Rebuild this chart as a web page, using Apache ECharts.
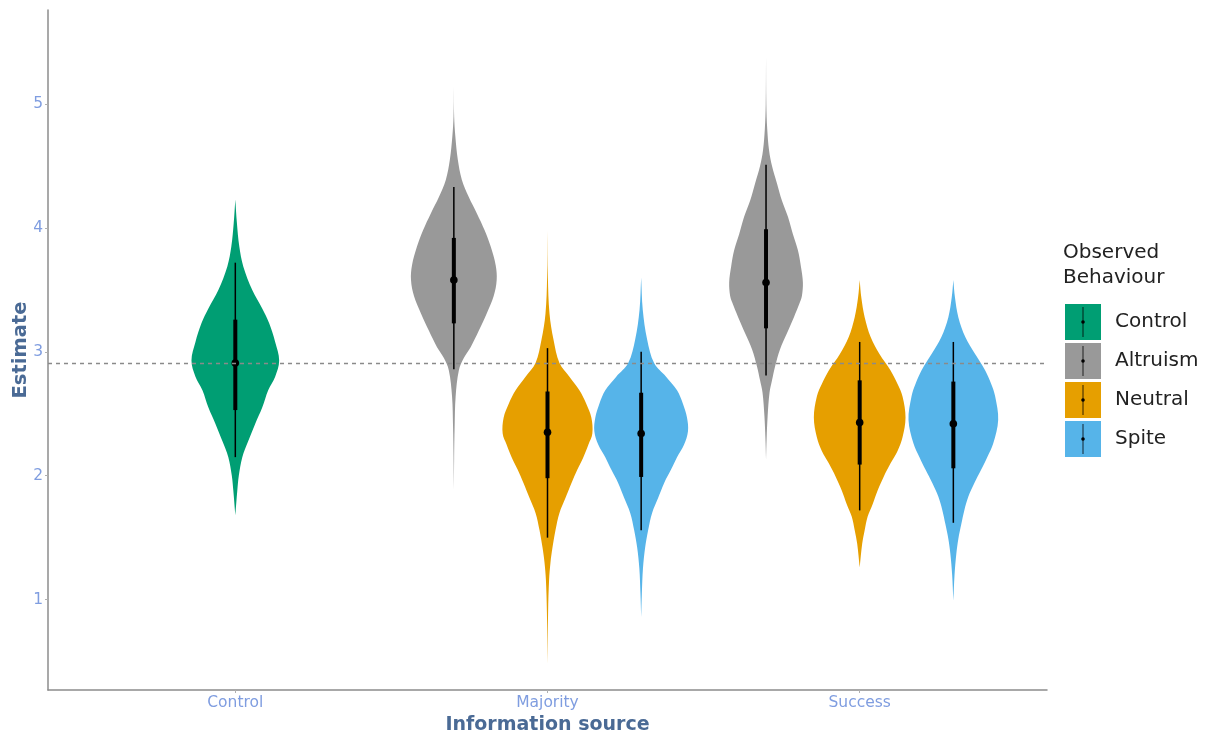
<!DOCTYPE html>
<html><head><meta charset="utf-8">
<script src="https://cdn.jsdelivr.net/npm/echarts@6/dist/echarts.min.js"></script>
<style>html,body{margin:0;padding:0;background:#fff}#c{width:1207px;height:736px}</style>
</head><body><div id="c"></div>
<script>
// ---------- data ----------
const sources = ['Control', 'Majority', 'Success'];
const behaviours = ['Control', 'Altruism', 'Neutral', 'Spite'];
const yTicks = [1, 2, 3, 4, 5];
const referenceLine = 2.91;

// which information sources each behaviour appears in
const controlSources = ['Control'];
const altruismSources = ['Majority', 'Success'];
const neutralSources = ['Majority', 'Success'];
const spiteSources = ['Majority', 'Success'];

// medians and intervals (66% inner, 95% outer)
const controlMedian = [2.91];
const controlInner = [[2.53, 3.26]];
const controlOuter = [[2.15, 3.72]];
const altruismMedian = [3.58, 3.56];
const altruismInner = [[3.23, 3.92], [3.19, 3.99]];
const altruismOuter = [[2.86, 4.33], [2.81, 4.51]];
const neutralMedian = [2.35, 2.43];
const neutralInner = [[1.98, 2.68], [2.09, 2.77]];
const neutralOuter = [[1.50, 3.03], [1.72, 3.08]];
const spiteMedian = [2.34, 2.42];
const spiteInner = [[1.99, 2.67], [2.06, 2.76]];
const spiteOuter = [[1.56, 3.00], [1.62, 3.08]];

// violin density profiles: [estimate, relative density]
const densControlControl = [[4.23,0],[4.04,1.6],[3.85,4],[3.69,8],[3.50,17],[3.35,27],[3.23,34],[3.08,40],[2.93,44],[2.80,40],[2.69,33],[2.55,27],[2.42,20],[2.28,13],[2.15,7],[2.00,3.5],[1.88,2],[1.68,0]];
const densMajorityAltruism = [[5.14,0],[4.90,0.3],[4.74,1.5],[4.55,4],[4.39,8],[4.25,15],[4.12,23],[3.98,31],[3.85,37],[3.70,42],[3.58,43],[3.45,40],[3.31,33],[3.17,25],[3.04,17],[2.95,10],[2.85,5],[2.64,1.8],[2.40,0.8],[2.15,0.3],[1.88,0]];
const densSuccessAltruism = [[5.38,0],[5.00,0.3],[4.80,1.2],[4.63,3],[4.50,6],[4.36,11],[4.22,16],[4.09,22],[3.95,27],[3.82,32],[3.69,35],[3.56,37],[3.45,36],[3.40,34],[3.28,28],[3.15,21],[3.02,14],[2.88,9],[2.77,6],[2.67,3.5],[2.48,1.6],[2.30,0.6],[2.13,0]];
const densMajorityNeutral = [[3.98,0],[3.60,0.4],[3.31,2],[3.10,6],[2.91,12],[2.80,22],[2.69,32],[2.58,39],[2.47,44],[2.34,45],[2.25,41],[2.15,36],[2.05,30],[1.94,24],[1.82,18],[1.70,12],[1.56,8],[1.42,5],[1.30,3],[1.16,1.6],[0.90,0.6],[0.48,0]];
const densSuccessNeutral = [[3.58,0],[3.44,1.6],[3.28,5],[3.12,11],[2.98,20],[2.85,31],[2.74,38],[2.64,43],[2.47,46],[2.31,43],[2.20,38],[2.10,31],[1.99,24],[1.88,18],[1.77,13],[1.67,8],[1.56,5],[1.45,2.5],[1.26,0]];
const densMajoritySpite = [[3.60,0],[3.34,1.6],[3.10,6],[2.91,13],[2.80,25],[2.69,36],[2.58,42],[2.47,46],[2.36,47],[2.25,43],[2.15,36],[2.05,30],[1.94,23],[1.82,17],[1.70,11],[1.56,7],[1.42,4],[1.25,1.8],[1.05,0.7],[0.86,0]];
const densSuccessSpite = [[3.58,0],[3.44,1.6],[3.28,5],[3.12,12],[2.98,22],[2.85,32],[2.74,38],[2.64,42],[2.45,45],[2.26,40],[2.15,34],[2.05,28],[1.94,21],[1.83,15],[1.72,11],[1.61,8],[1.49,5],[1.37,3],[1.20,1.2],[0.99,0]];

// ---------- layout / style ----------
const colors = { Control: '#009E73', Altruism: '#999999', Neutral: '#E69F00', Spite: '#56B4E9' };
const dodge = { Control: 0, Altruism: -0.3, Neutral: 0, Spite: 0.3 };
const maxHalfWidth = 0.15;
const allDens = [densControlControl, densMajorityAltruism, densSuccessAltruism, densMajorityNeutral, densSuccessNeutral, densMajoritySpite, densSuccessSpite];
const maxDens = Math.max(...allDens.map(p => Math.max(...p.map(q => q[1]))));
const densScale = maxHalfWidth / maxDens;
const FONT = '"DejaVu Sans", Verdana, sans-serif';

const groups = {
  Control: { srcs: controlSources, med: controlMedian, inner: controlInner, outer: controlOuter, prof: [densControlControl] },
  Altruism: { srcs: altruismSources, med: altruismMedian, inner: altruismInner, outer: altruismOuter, prof: [densMajorityAltruism, densSuccessAltruism] },
  Neutral: { srcs: neutralSources, med: neutralMedian, inner: neutralInner, outer: neutralOuter, prof: [densMajorityNeutral, densSuccessNeutral] },
  Spite: { srcs: spiteSources, med: spiteMedian, inner: spiteInner, outer: spiteOuter, prof: [densMajoritySpite, densSuccessSpite] }
};

function makeRender(g, color) {
  return function (params, api) {
    const i = params.dataIndex;
    const x = api.value(0);
    const prof = g.prof[i];
    const right = [], left = [];
    prof.forEach(function (p) {
      const hw = p[1] * densScale;
      right.push(api.coord([x + hw, p[0]]));
      left.push(api.coord([x - hw, p[0]]));
    });
    const pts = right.concat(left.reverse());
    const o0 = api.coord([x, g.outer[i][0]]), o1 = api.coord([x, g.outer[i][1]]);
    const n0 = api.coord([x, g.inner[i][0]]), n1 = api.coord([x, g.inner[i][1]]);
    const m = api.coord([x, g.med[i]]);
    return {
      type: 'group',
      children: [
        { type: 'polygon', shape: { points: pts, smooth: 0.35 }, style: { fill: color } },
        { type: 'line', shape: { x1: o0[0], y1: o0[1], x2: o1[0], y2: o1[1] }, style: { stroke: '#000', lineWidth: 1.5 } },
        { type: 'line', shape: { x1: n0[0], y1: n0[1], x2: n1[0], y2: n1[1] }, style: { stroke: '#000', lineWidth: 4 } },
        { type: 'circle', shape: { cx: m[0], cy: m[1], r: 3.8 }, style: { fill: '#000' } }
      ]
    };
  };
}

const series = behaviours.map(function (b) {
  const g = groups[b];
  return {
    name: b,
    type: 'custom',
    itemStyle: { color: colors[b] },
    renderItem: makeRender(g, colors[b]),
    encode: { x: 0, y: 1 },
    data: g.srcs.map(function (s, i) { return [sources.indexOf(s) + 1 + dodge[b], g.med[i]]; }),
    z: 2
  };
});
series.push({
  name: 'ref', type: 'line', data: [], z: 5, silent: true,
  markLine: {
    silent: true, symbol: ['none', 'none'], label: { show: false },
    lineStyle: { color: '#8a8a8a', type: [4, 4], width: 1.3 },
    data: [{ yAxis: referenceLine }]
  }
});

const chart = echarts.init(document.getElementById('c'), null, { renderer: 'canvas' });

const legendTop = 304, itemH = 36, itemGap = 3, keyX = 1065, keyW = 36;
const keyGraphics = [];
behaviours.forEach(function (b, i) {
  const cy = legendTop + i * (itemH + itemGap) + itemH / 2;
  keyGraphics.push({ type: 'line', shape: { x1: keyX + keyW / 2, y1: cy - 15, x2: keyX + keyW / 2, y2: cy + 15 }, style: { stroke: '#000', lineWidth: 0.8 }, z: 100 });
  keyGraphics.push({ type: 'circle', shape: { cx: keyX + keyW / 2, cy: cy, r: 1.8 }, style: { fill: '#000' }, z: 100 });
});

chart.setOption({
  animation: false,
  backgroundColor: '#fff',
  textStyle: { fontFamily: FONT },
  grid: { left: 48, right: 160, top: 10, bottom: 46, containLabel: false, outerBoundsMode: 'none' },
  xAxis: {
    type: 'value', min: 0.4, max: 3.6,
    name: 'Information source', nameLocation: 'middle', nameGap: 26, nameMoveOverlap: false,
    nameTextStyle: { fontFamily: FONT, fontSize: 19, fontWeight: 'bold', color: '#4a6a95' },
    axisLine: { show: true, lineStyle: { color: '#8c8c8c', width: 1.5 } },
    axisTick: { show: true, length: 3, lineStyle: { color: '#b0b0b0' }, customValues: [1, 2, 3] },
    axisLabel: { color: '#7f9de0', fontSize: 15.5, margin: 5, fontFamily: FONT, customValues: [1, 2, 3],
      formatter: function (v) { return sources[Math.round(v) - 1] || ''; } },
    splitLine: { show: false }
  },
  yAxis: {
    type: 'value', min: 0.27, max: 5.76,
    name: 'Estimate', nameLocation: 'middle', nameGap: 17, nameRotate: 90, nameMoveOverlap: false,
    nameTextStyle: { fontFamily: FONT, fontSize: 19.5, fontWeight: 'bold', color: '#4a6a95' },
    axisLine: { show: true, lineStyle: { color: '#8c8c8c', width: 1.5 } },
    axisTick: { show: true, length: 3, lineStyle: { color: '#b0b0b0' }, customValues: yTicks },
    axisLabel: { color: '#7f9de0', fontSize: 15.5, margin: 5, fontFamily: FONT, customValues: yTicks },
    splitLine: { show: false }
  },
  legend: {
    data: behaviours, orient: 'vertical', left: keyX, top: legendTop, padding: 0,
    itemWidth: keyW, itemHeight: itemH, itemGap: itemGap, icon: 'rect',
    textStyle: { fontSize: 20, color: '#222', fontFamily: FONT, padding: [0, 0, 0, 9] },
    selectedMode: false
  },
  graphic: [
    { type: 'text', left: 1063, top: 240, z: 100,
      style: { text: 'Observed\nBehaviour', fontSize: 20, lineHeight: 25, fill: '#222', fontFamily: FONT } }
  ].concat(keyGraphics),
  series: series
});
</script>
</body></html>
